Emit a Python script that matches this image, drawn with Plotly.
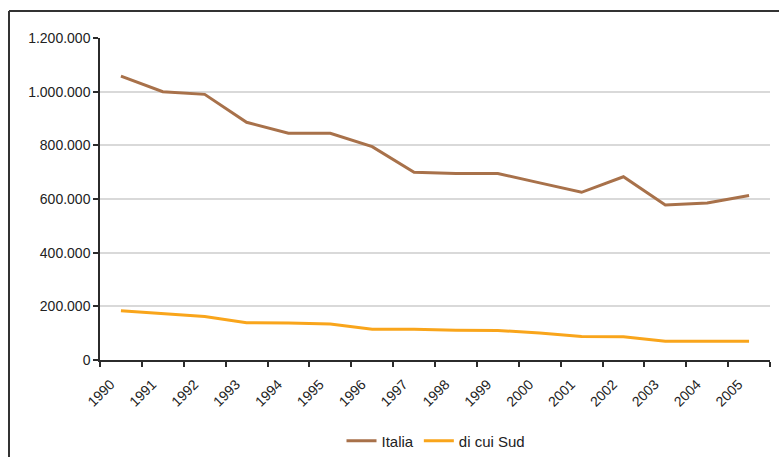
import plotly.graph_objects as go

# Years on the category axis
years = [str(y) for y in range(1990, 2006)]

# Series values
italia = [1058000, 1000000, 990000, 886000, 845000, 845000, 795000, 700000,
          695000, 695000, 660000, 625000, 683000, 578000, 585000, 613000]
sud = [184000, 172000, 162000, 139000, 138000, 134000, 115000, 115000,
       111000, 110000, 101000, 88000, 87000, 70000, 70000, 70000]

# Y tick values / labels
y_ticks = [0, 200000, 400000, 600000, 800000, 1000000, 1200000]
y_labels = ["0", "200.000", "400.000", "600.000", "800.000", "1.000.000", "1.200.000"]

x_pos = [i + 0.5 for i in range(len(years))]

FONT = "Liberation Sans, Arial, sans-serif"
AXIS = "#2b2b2b"
TXT = "#222222"

fig = go.Figure()
fig.add_trace(go.Scatter(x=x_pos, y=italia, mode="lines", name="Italia",
                         line=dict(color="#A8714A", width=3)))
fig.add_trace(go.Scatter(x=x_pos, y=sud, mode="lines", name="di cui Sud",
                         line=dict(color="#F9A51B", width=3)))

W, H = 779, 457
L, R, T, B = 100, 9, 38, 97
pw, ph = W - L - R, H - T - B


def px(xp):
    return (xp - L) / pw


def py(yp):
    return (H - B - yp) / ph


# Outer frame (top and left edges)
fig.add_shape(type="line", xref="paper", yref="paper",
              x0=px(9), x1=px(W + 5), y0=py(11), y1=py(11),
              line=dict(color="#333333", width=2))
fig.add_shape(type="line", xref="paper", yref="paper",
              x0=px(9), x1=px(9), y0=py(11), y1=py(H + 5),
              line=dict(color="#333333", width=2))

fig.update_layout(
    width=W, height=H,
    margin=dict(l=L, r=R, t=T, b=B, autoexpand=False),
    paper_bgcolor="white", plot_bgcolor="white",
    font=dict(family=FONT, size=15, color=TXT),
    showlegend=True,
    legend=dict(orientation="h", x=px(436), xanchor="center",
                y=py(441), yanchor="middle",
                font=dict(size=15, color=TXT),
                itemwidth=30, tracegroupgap=0),
    xaxis=dict(
        range=[0, len(years)],
        tickmode="array",
        tickvals=[i + 0.25 for i in range(len(years))],
        ticktext=years,
        tickangle=-45,
        ticks="",
        ticklabelstandoff=9,
        showgrid=False, zeroline=False,
        showline=True, linecolor=AXIS, linewidth=1.5,
        tickfont=dict(size=14, color=TXT),
        automargin=False,
        minor=dict(tickmode="linear", tick0=0, dtick=1, ticks="outside",
                   ticklen=5, tickcolor=AXIS, tickwidth=1.5, showgrid=False),
        fixedrange=True,
    ),
    yaxis=dict(
        range=[0, 1200000],
        tickmode="array",
        tickvals=y_ticks, ticktext=y_labels,
        ticks="outside", ticklen=5, tickcolor=AXIS, tickwidth=1.5,
        showgrid=True, gridcolor="#d9d9d9", gridwidth=1.5,
        zeroline=False,
        showline=True, linecolor=AXIS, linewidth=1.5,
        tickfont=dict(size=14, color=TXT),
        automargin=False,
        fixedrange=True,
    ),
)

fig.write_html("out.html")
